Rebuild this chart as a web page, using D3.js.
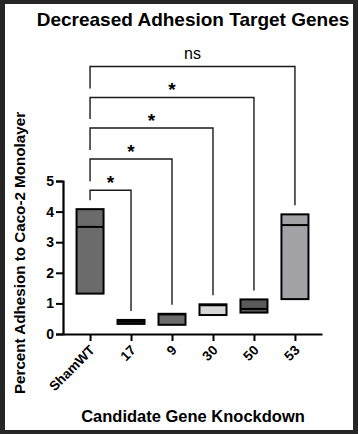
<!DOCTYPE html>
<html lang="en">
<head>
    <meta charset="UTF-8">
    <title>Decreased Adhesion Target Genes</title>
    <script src="https://d3js.org/d3.v7.min.js"></script>
    <style>
        body {
            margin: 0;
            background: #262626;
        }
        svg { display: block; font-family: "Liberation Sans", Arial, Helvetica, sans-serif; }
    </style>
</head>
<body>
<svg id="chart" width="358" height="434"></svg>
<script>
    // Categories and box stats
    const genes   = ["ShamWT", "17", "9", "30", "50", "53"];
    const lows    = [1.32, 0.33, 0.30, 0.62, 0.70, 1.14];
    const medians = [3.50, 0.40, 0.64, 0.94, 0.82, 3.56];
    const highs   = [4.08, 0.46, 0.66, 0.97, 1.13, 3.91];
    const fills   = ["#6b6b6b", "#6b6b6b", "#6b6b6b", "#d6d6d6", "#5a5a5a", "#a3a3a7"];

    // Significance brackets vs ShamWT
    const compareTo  = ["17", "9", "30", "50", "53"];
    const sigLabels  = ["*", "*", "*", "*", "ns"];
    const sigLevels  = [4.7, 5.72, 6.73, 7.73, 8.74];

    const yTicks = [0, 1, 2, 3, 4, 5];

    const FONT = '"Liberation Sans", Arial, Helvetica, sans-serif';
    const svg = d3.select("#chart");

    // white panel
    svg.append("rect")
        .attr("x", 5).attr("y", 4)
        .attr("width", 348).attr("height", 426)
        .attr("fill", "#fff");

    const x = d3.scalePoint()
        .domain(genes)
        .range([63, 322])
        .padding(0.66);

    const y = d3.scaleLinear()
        .domain([0, 5])
        .range([334, 181]);

    const boxW = 27;

    // y axis
    const yAxis = svg.append("g")
        .attr("transform", "translate(63,0)")
        .call(d3.axisLeft(y).tickValues(yTicks).tickFormat(d3.format("d")).tickSize(7).tickPadding(2));
    yAxis.attr("font-family", FONT);
    yAxis.select(".domain").attr("stroke", "#000").attr("stroke-width", 2.2);
    yAxis.selectAll(".tick line").attr("stroke", "#000").attr("stroke-width", 2);
    yAxis.selectAll(".tick text")
        .attr("fill", "#000")
        .style("font-size", "14px")
        .style("font-weight", "bold");

    // x axis
    const xAxis = svg.append("g")
        .attr("transform", "translate(0,334)")
        .call(d3.axisBottom(x).tickSize(7).tickSizeOuter(0));
    xAxis.attr("font-family", FONT);
    xAxis.select(".domain").attr("stroke", "#000").attr("stroke-width", 2.2);
    xAxis.selectAll(".tick line").attr("stroke", "#000").attr("stroke-width", 2);
    xAxis.selectAll(".tick text")
        .attr("fill", "#000")
        .attr("text-anchor", "end")
        .attr("dy", null)
        .attr("y", 0)
        .attr("transform", "translate(5,17) rotate(-45)")
        .style("font-size", "13.5px")
        .style("font-weight", "bold");

    // boxes
    const rows = genes.map((g, i) => ({ g, lo: lows[i], med: medians[i], hi: highs[i], fill: fills[i] }));

    const boxes = svg.append("g").selectAll("g")
        .data(rows)
        .enter().append("g");

    boxes.append("rect")
        .attr("x", d => x(d.g) - boxW / 2)
        .attr("y", d => y(d.hi))
        .attr("width", boxW)
        .attr("height", d => y(d.lo) - y(d.hi))
        .attr("fill", d => d.fill)
        .attr("stroke", "#000")
        .attr("stroke-width", 2);

    boxes.append("line")
        .attr("x1", d => x(d.g) - boxW / 2)
        .attr("x2", d => x(d.g) + boxW / 2)
        .attr("y1", d => y(d.med))
        .attr("y2", d => y(d.med))
        .attr("stroke", "#000")
        .attr("stroke-width", 2);

    // brackets
    const gap = 9;
    const brackets = compareTo.map((g, i) => {
        const prev = i === 0 ? y(highs[0]) : y(sigLevels[i - 1]);
        return { g, label: sigLabels[i], lvl: y(sigLevels[i]), leftEnd: prev - gap,
                 rightEnd: y(highs[genes.indexOf(g)]) - gap };
    });

    const bg = svg.append("g");
    bg.selectAll("path")
        .data(brackets)
        .enter().append("path")
        .attr("fill", "none")
        .attr("stroke", "#1a1a1a")
        .attr("stroke-width", 1.4)
        .attr("d", d => {
            const x0 = x("ShamWT"), x1 = x(d.g);
            return `M${x0},${d.leftEnd}V${d.lvl}H${x1}V${d.rightEnd}`;
        });

    bg.selectAll("text")
        .data(brackets)
        .enter().append("text")
        .attr("x", d => (x("ShamWT") + x(d.g)) / 2)
        .attr("y", d => d.label === "*" ? d.lvl - 1 : d.lvl - 8)
        .attr("text-anchor", "middle")
        .attr("fill", "#000")
        .style("font-family", FONT)
        .style("font-size", d => d.label === "*" ? "19px" : "16px")
        .style("font-weight", d => d.label === "*" ? "bold" : "normal")
        .text(d => d.label);

    // titles
    svg.append("text")
        .attr("x", 193).attr("y", 26)
        .attr("text-anchor", "middle")
        .style("font-family", FONT)
        .style("font-size", "19px")
        .style("font-weight", "bold")
        .text("Decreased Adhesion Target Genes");

    svg.append("text")
        .attr("x", 193).attr("y", 422)
        .attr("text-anchor", "middle")
        .style("font-family", FONT)
        .style("font-size", "16.5px")
        .style("font-weight", "bold")
        .text("Candidate Gene Knockdown");

    svg.append("text")
        .attr("transform", "translate(25,253) rotate(-90)")
        .attr("text-anchor", "middle")
        .style("font-family", FONT)
        .style("font-size", "15.2px")
        .style("font-weight", "bold")
        .text("Percent Adhesion to Caco-2 Monolayer");
</script>
</body>
</html>
